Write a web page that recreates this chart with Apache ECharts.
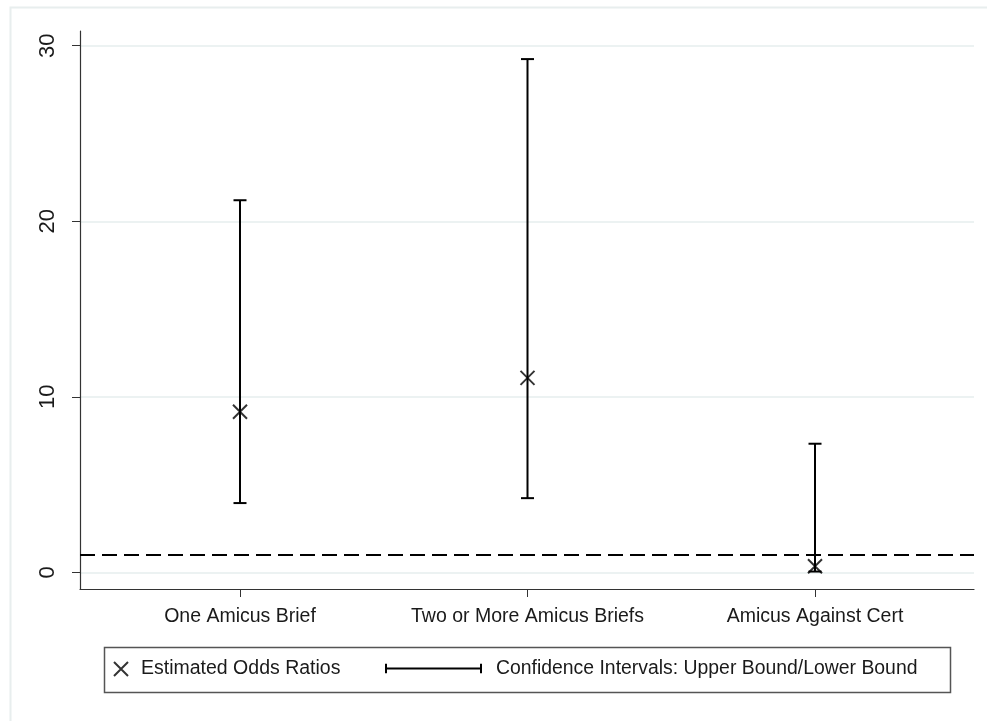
<!DOCTYPE html>
<html>
<head>
<meta charset="utf-8">
<script src="https://cdn.jsdelivr.net/npm/echarts@6/dist/echarts.min.js"></script>
<style>
  html, body { margin: 0; padding: 0; background: #fff; }
  #main { width: 987px; height: 721px; }
</style>
</head>
<body>
<div id="main"></div>
<script>
// categories and values
var categories = ["One Amicus Brief", "Two or More Amicus Briefs", "Amicus Against Cert"];
var oddsRatio = [9.15, 11.08, 0.35];
var lowerBound = [3.95, 4.23, 0.05];
var upperBound = [21.2, 29.24, 7.33];
var yTicks = [0, 10, 20, 30];
var refLine = 1;

var font = "Liberation Sans, Arial, sans-serif";
var xMark = "path://M0,0L10,10M10,0L0,10";
var barIcon = "path://M0,0L0,10M0,5L100,5M100,0L100,10";

var pointData = categories.map(function (c, i) { return [i + 1, oddsRatio[i]]; });
var ciData = categories.map(function (c, i) { return [i + 1, lowerBound[i], upperBound[i]]; });

var myChart = echarts.init(document.getElementById("main"));
var option = {
  animation: false,
  backgroundColor: "#fff",
  grid: { left: 80, right: 13, top: 31, bottom: 132 },
  xAxis: {
    type: "value",
    min: 0.4435,
    max: 3.553,
    axisLine: { show: true, onZero: false, lineStyle: { color: "#333", width: 1.2 } },
    axisTick: { show: true, length: 8, customValues: [1, 2, 3], lineStyle: { color: "#333" } },
    axisLabel: {
      customValues: [1, 2, 3],
      margin: 18,
      fontSize: 19.5,
      fontFamily: font,
      color: "#1a1a1a",
      formatter: function (v) { return categories[Math.round(v) - 1] || ""; }
    },
    splitLine: { show: false }
  },
  yAxis: {
    type: "value",
    min: -0.945,
    max: 30.84,
    axisLine: { show: true, onZero: false, lineStyle: { color: "#333", width: 1.2 } },
    axisTick: { show: true, length: 8, customValues: yTicks, lineStyle: { color: "#333" } },
    axisLabel: {
      customValues: yTicks,
      rotate: 90,
      margin: 21,
      fontSize: 22,
      fontFamily: font,
      color: "#1a1a1a"
    },
    splitLine: { show: true, lineStyle: { color: "#e6eeee", width: 1.5 } }
  },
  legend: [
    {
      left: 108,
      top: 654,
      itemWidth: 14,
      itemHeight: 14,
      textStyle: { fontSize: 19.5, fontFamily: font, color: "#1a1a1a", padding: [0, 0, 0, 8] },
      data: [{
        name: "Estimated Odds Ratios",
        icon: xMark,
        itemStyle: { color: "rgba(0,0,0,0)", borderColor: "#000", borderWidth: 2 }
      }]
    },
    {
      left: 380,
      top: 654,
      itemWidth: 95,
      itemHeight: 12,
      textStyle: { fontSize: 19.4, fontFamily: font, color: "#1a1a1a", padding: [0, 0, 0, 10] },
      data: [{
        name: "Confidence Intervals: Upper Bound/Lower Bound",
        icon: barIcon,
        itemStyle: { color: "rgba(0,0,0,0)", borderColor: "#000", borderWidth: 2 }
      }]
    }
  ],
  graphic: [
    {
      type: "rect",
      left: 8, top: 5,
      shape: { width: 1000, height: 730 },
      style: { fill: null, stroke: "#e8eeee", lineWidth: 2 },
      silent: true
    },
    {
      type: "rect",
      left: 102, top: 645,
      shape: { width: 846, height: 45 },
      style: { fill: null, stroke: "#555", lineWidth: 1.5 },
      silent: true
    }
  ],
  series: [
    {
      name: "Confidence Intervals: Upper Bound/Lower Bound",
      type: "custom",
      data: ciData,
      renderItem: function (params, api) {
        var x = api.value(0);
        var lo = api.coord([x, api.value(1)]);
        var hi = api.coord([x, api.value(2)]);
        var w = 6.5;
        var st = { stroke: "#000", lineWidth: 2 };
        return {
          type: "group",
          children: [
            { type: "line", shape: { x1: lo[0], y1: lo[1], x2: hi[0], y2: hi[1] }, style: st },
            { type: "line", shape: { x1: lo[0] - w, y1: lo[1], x2: lo[0] + w, y2: lo[1] }, style: st },
            { type: "line", shape: { x1: hi[0] - w, y1: hi[1], x2: hi[0] + w, y2: hi[1] }, style: st }
          ]
        };
      },
      markLine: {
        silent: true,
        symbol: "none",
        label: { show: false },
        lineStyle: { color: "#000", width: 2, type: [15, 7] },
        data: [{ yAxis: refLine }]
      },
      z: 3
    },
    {
      name: "Estimated Odds Ratios",
      type: "scatter",
      data: pointData,
      symbol: xMark,
      symbolSize: 14,
      itemStyle: { color: "rgba(0,0,0,0)", borderColor: "#000", borderWidth: 2 },
      z: 4
    }
  ]
};
myChart.setOption(option);
</script>
</body>
</html>
